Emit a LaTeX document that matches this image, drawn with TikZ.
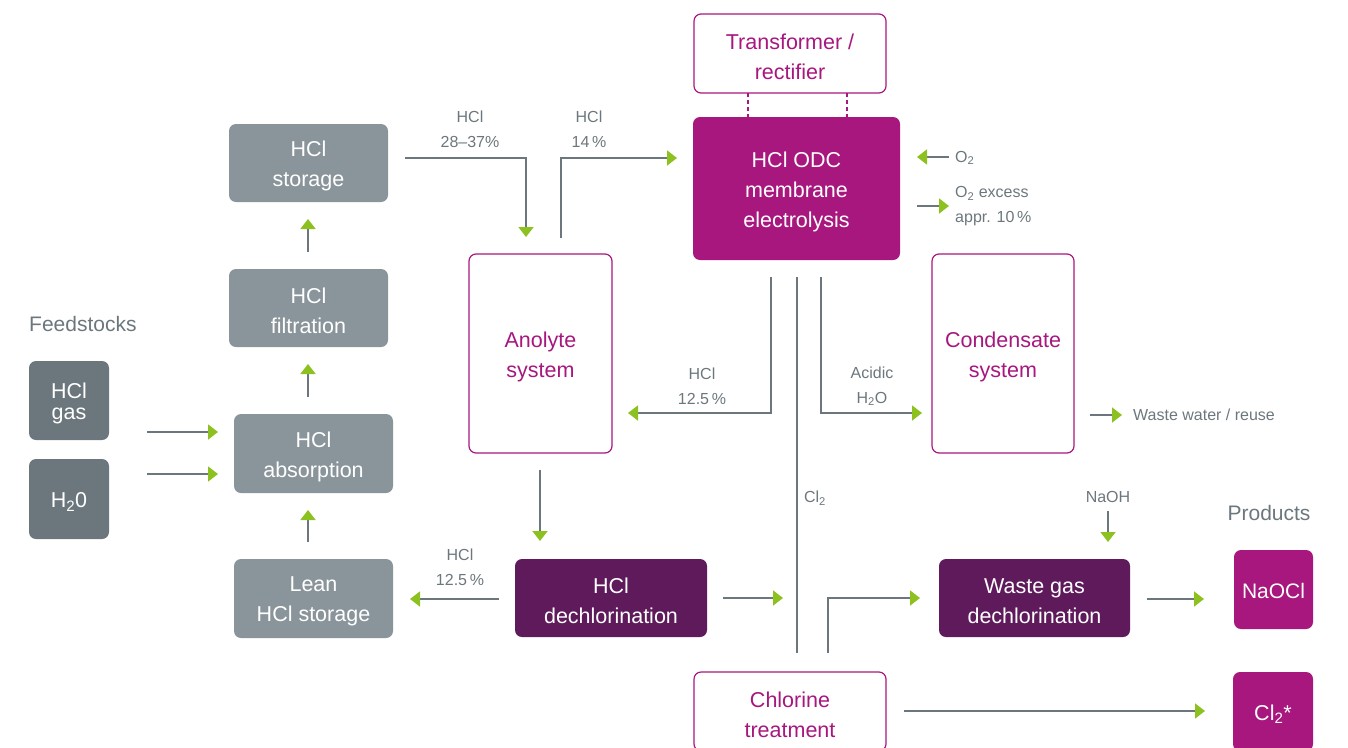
\documentclass[tikz,border=0pt]{standalone}
\usepackage{fontspec}
\setmainfont{Liberation Sans}
\usetikzlibrary{arrows.meta}
\definecolor{mag}{HTML}{A8177E}
\definecolor{dpur}{HTML}{5F1A5C}
\definecolor{gbox}{HTML}{8A959B}
\definecolor{dgbox}{HTML}{6C777D}
\definecolor{lineg}{HTML}{6C777D}
\definecolor{grn}{HTML}{8CC11F}
\newcommand\bfnt{\fontsize{21.5}{30}\selectfont}
\newcommand\lfnt{\fontsize{16}{25}\selectfont}
\newcommand\hfnt{\fontsize{21}{26}\selectfont}
\tikzset{
  basebox/.style={rounded corners=7pt, inner sep=0pt},
  txtw/.style={label={[align=center, inner sep=0pt, font=\bfnt, text=white, yshift=-3pt]center:{#1}}},
  txtm/.style={label={[align=center, inner sep=0pt, font=\bfnt, text=mag, yshift=-3pt]center:{#1}}},
  graybox/.style={basebox, fill=gbox},
  dgraybox/.style={basebox, fill=dgbox},
  magbox/.style={basebox, fill=mag},
  purbox/.style={basebox, fill=dpur},
  outbox/.style={basebox, draw=mag, line width=1.2pt, fill=white},
  conn/.style={draw=lineg, line width=1.6pt, -{Triangle[length=10pt,width=15pt,color=grn]}},
  plain/.style={draw=lineg, line width=1.6pt},
  lbl/.style={font=\lfnt, text=lineg, align=center, inner sep=0pt},
  head/.style={font=\hfnt, text=lineg, inner sep=0pt},
}
\begin{document}
\begin{tikzpicture}[x=1pt,y=-1pt]
\useasboundingbox (0,0) rectangle (1348,747);
% boxes
\node[outbox, minimum width=192pt, minimum height=79pt, txtm={Transformer /\\rectifier}] (trans) at (790,53.5) {};
\node[magbox, minimum width=207pt, minimum height=143pt, txtw={HCl ODC\\membrane\\electrolysis}] (odc) at (796.5,188.5) {};
\node[graybox, minimum width=159pt, minimum height=78pt, txtw={HCl\\storage}] (storage) at (308.5,163) {};
\node[graybox, minimum width=159pt, minimum height=78pt, txtw={HCl\\filtration}] (filt) at (308.5,308) {};
\node[graybox, minimum width=159pt, minimum height=79pt, txtw={HCl\\absorption}] (absorp) at (313.5,453.5) {};
\node[graybox, minimum width=159pt, minimum height=79pt, txtw={Lean\\HCl storage}] (lean) at (313.5,598.5) {};
\node[dgraybox, minimum width=80pt, minimum height=79pt,
  label={[align=center, inner sep=0pt, font=\fontsize{21.5}{21}\selectfont, text=white, yshift=-3pt]center:{HCl\\gas}}] (gas) at (69,400.5) {};
\node[dgraybox, minimum width=80pt, minimum height=80pt, txtw={H\textsubscript{2}0}] (water) at (69,499) {};
\node[outbox, minimum width=143pt, minimum height=199pt, txtm={Anolyte\\system}] (anolyte) at (540.5,353.5) {};
\node[outbox, minimum width=142pt, minimum height=199pt, txtm={Condensate\\system}] (cond) at (1003,353.5) {};
\node[purbox, minimum width=192pt, minimum height=78pt, txtw={HCl\\dechlorination}] (hcldec) at (611,598) {};
\node[purbox, minimum width=191pt, minimum height=78pt, txtw={Waste gas\\dechlorination}] (wgdec) at (1034.5,598) {};
\node[magbox, minimum width=79pt, minimum height=79pt,
  label={[inner sep=0pt, font=\fontsize{21}{30}\selectfont, text=white, yshift=-1pt]center:{NaOCl}}] (naocl) at (1273.5,589.5) {};
\node[magbox, minimum width=80pt, minimum height=79pt, txtw={Cl\textsubscript{2}*}] (cltwo) at (1273,711.5) {};
\node[outbox, minimum width=192pt, minimum height=79pt, txtm={Chlorine\\treatment}] (chlor) at (790,711.5) {};
% headings
\node[head, anchor=west] (feed) at (29,324) {Feedstocks};
\node[head] (prod) at (1269,513) {Products};
% dashed links
\coordinate (d1a) at (748,93); \coordinate (d1b) at (748,117);
\coordinate (d2a) at (847,93); \coordinate (d2b) at (847,117);
\draw[draw=mag, line width=1.2pt, dash pattern=on 4pt off 3pt] (d1a) -- (d1b);
\draw[draw=mag, line width=1.2pt, dash pattern=on 4pt off 3pt] (d2a) -- (d2b);
% feed arrows
\coordinate (g1) at (147,432); \coordinate (g2) at (218,432);
\coordinate (w1) at (147,474); \coordinate (w2) at (218,474);
\draw[conn] (g1) -- (g2);
\draw[conn] (w1) -- (w2);
% vertical left chain
\coordinate (l1) at (308,542); \coordinate (l2) at (308,510);
\coordinate (a1) at (308,397); \coordinate (a2) at (308,364);
\coordinate (f1) at (308,252); \coordinate (f2) at (308,219);
\draw[conn] (l1) -- (l2);
\draw[conn] (a1) -- (a2);
\draw[conn] (f1) -- (f2);
% storage -> anolyte
\coordinate (s1) at (405,158); \coordinate (s2) at (526,237);
\draw[conn] (s1) -| (s2);
\node[lbl] (lab1) at (470,129) {HCl\\28–37\%};
% anolyte -> odc
\coordinate (an1) at (561,238); \coordinate (an2) at (677,158);
\draw[conn] (an1) |- (an2);
\node[lbl] (lab2) at (589,129) {HCl\\14\,\%};
% O2
\coordinate (o1) at (949,157); \coordinate (o2) at (917,157);
\draw[conn] (o1) -- (o2);
\node[lbl, anchor=west] (lab3) at (955,158) {O\textsubscript{2}};
\coordinate (oe1) at (917,206); \coordinate (oe2) at (949,206);
\draw[conn] (oe1) -- (oe2);
\node[lbl, anchor=west, align=left] (lab4) at (955,206) {O\textsubscript{2} excess\\appr. 10\,\%};
% odc -> anolyte
\coordinate (r1) at (771,277); \coordinate (r2) at (628,413);
\draw[conn] (r1) |- (r2);
\node[lbl] (lab5) at (702,386) {HCl\\12.5\,\%};
% Cl2 line
\coordinate (c1) at (797,277); \coordinate (c2) at (797,653);
\draw[plain] (c1) -- (c2);
\node[lbl] (lab6) at (815,498) {Cl\textsubscript{2}};
% acidic water
\coordinate (h1) at (821,277); \coordinate (h2) at (922,413);
\draw[conn] (h1) |- (h2);
\node[lbl] (lab7) at (872,386) {Acidic\\H\textsubscript{2}O};
% waste water
\coordinate (ww1) at (1090,415); \coordinate (ww2) at (1122,415);
\draw[conn] (ww1) -- (ww2);
\node[lbl, anchor=west] (lab8) at (1133,415) {Waste water / reuse};
% anolyte -> hcl dechlorination
\coordinate (ad1) at (540,470); \coordinate (ad2) at (540,541);
\draw[conn] (ad1) -- (ad2);
% hcl dechlor -> lean
\coordinate (hl1) at (499,599); \coordinate (hl2) at (410,599);
\draw[conn] (hl1) -- (hl2);
\node[lbl] (lab9) at (460,567) {HCl\\12.5\,\%};
% hcl dechlor -> cl2 line
\coordinate (hc1) at (723,598); \coordinate (hc2) at (783,598);
\draw[conn] (hc1) -- (hc2);
% branch to waste gas
\coordinate (b1) at (828,653); \coordinate (b2) at (920,598);
\draw[conn] (b1) |- (b2);
% NaOH
\node[lbl] (lab10) at (1108,497) {NaOH};
\coordinate (n1) at (1108,511); \coordinate (n2) at (1108,542);
\draw[conn] (n1) -- (n2);
% waste gas -> NaOCl
\coordinate (wn1) at (1147,599); \coordinate (wn2) at (1204,599);
\draw[conn] (wn1) -- (wn2);
% chlorine treatment -> Cl2*
\coordinate (ct1) at (904,711); \coordinate (ct2) at (1205,711);
\draw[conn] (ct1) -- (ct2);
\end{tikzpicture}
\end{document}
